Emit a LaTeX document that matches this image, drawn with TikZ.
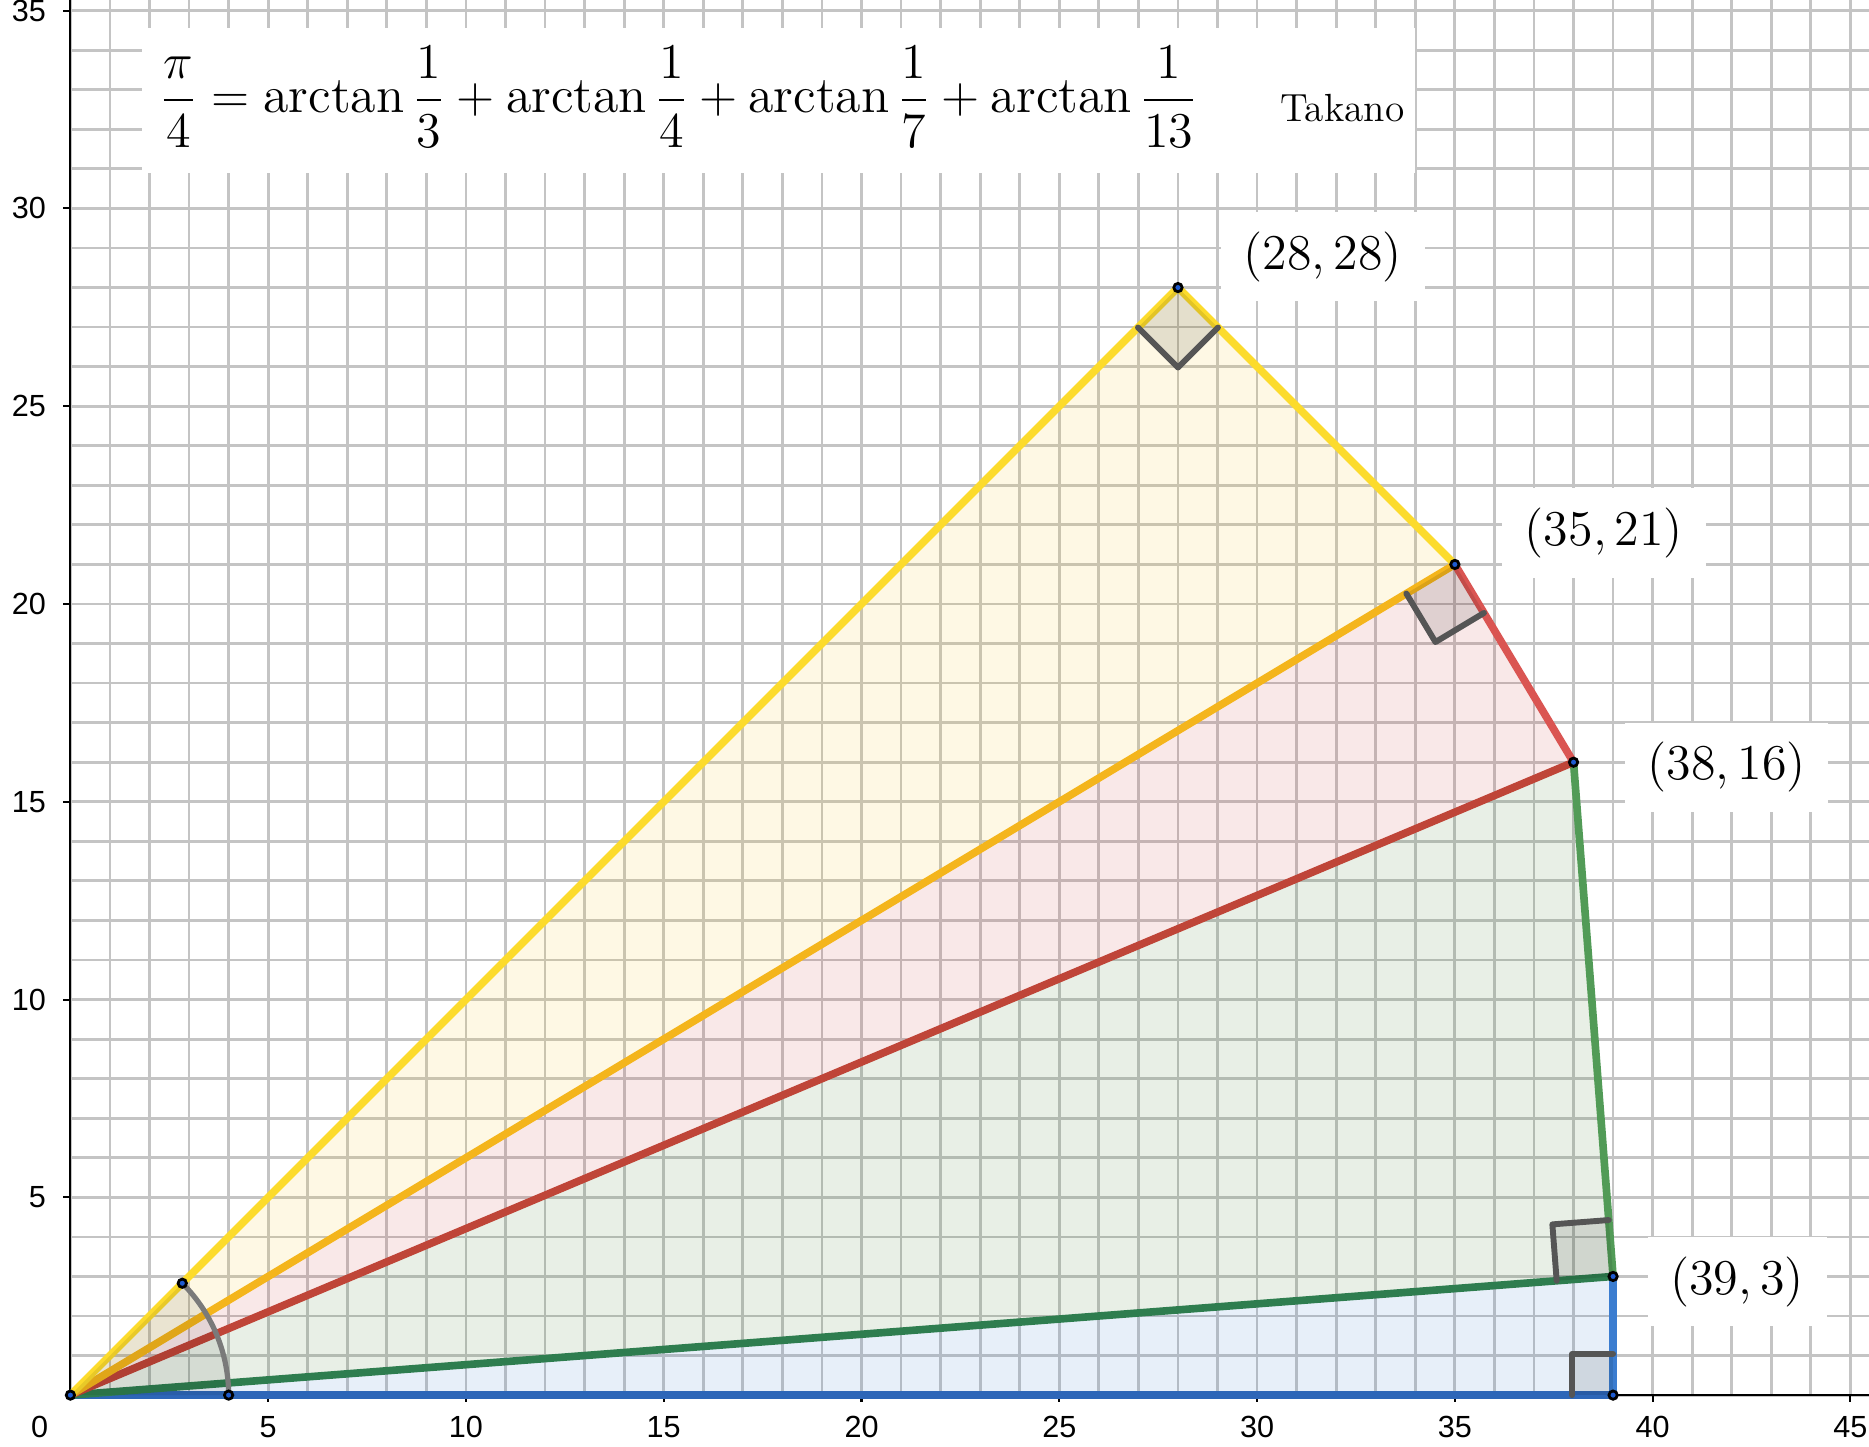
\documentclass[tikz,border=0pt]{standalone}
\usepackage{amsmath}
\usepackage{fontspec}
\newfontfamily\axisfont{Liberation Sans}
\usetikzlibrary{calc}
\definecolor{gridgray}{HTML}{C4C4C4}
\definecolor{bluebase}{HTML}{3B7DD0}
\definecolor{bluedark}{HTML}{2D66B8}
\definecolor{greenbase}{HTML}{3F7A30}
\definecolor{greendark}{HTML}{2E7D4F}
\definecolor{greenline}{HTML}{529B57}
\definecolor{redbase}{HTML}{CD3F3F}
\definecolor{reddark}{HTML}{BF4538}
\definecolor{redline}{HTML}{DA5552}
\definecolor{yellowbase}{HTML}{F7C51E}
\definecolor{orangeline}{HTML}{F4B51C}
\definecolor{yellowline}{HTML}{FCDB2C}
\definecolor{markgray}{HTML}{555555}
\definecolor{arcgray}{HTML}{7A7A7A}
\definecolor{dotblue}{HTML}{1E5BD0}

\tikzset{
  gridline/.style={gridgray, line width=0.8pt},
  axisline/.style={black, line width=0.6pt},
  edge/.style={line width=2.2pt, line cap=round, line join=round},
  trifill/.style={fill=#1, fill opacity=0.12},
  markfill/.style={fill=black, fill opacity=0.1},
  marker/.style={draw=markgray, line width=1.7pt, line join=round, line cap=round},
  ptlabel/.style={fill=white, inner xsep=0.23cm, inner ysep=0.2cm, font=\fontsize{14}{17}\selectfont},
  ptdot/.style={draw=black, fill=dotblue, line width=0.8pt},
  ticklabel/.style={font=\axisfont\fontsize{8.8}{10}\selectfont, inner sep=0pt},
}

\newcommand{\rtmark}[4]{%
  \coordinate (m1) at ($(#2)!#1!(#3)$);
  \coordinate (m2) at ($(#2)!#1!(#4)$);
  \coordinate (m3) at ($(m1)+(m2)-(#2)$);
  \fill[markfill] (#2) -- (m1) -- (m3) -- (m2) -- cycle;
  \draw[marker] (m1) -- (m3) -- (m2);
}

\begin{document}
\begin{tikzpicture}[x=0.4cm, y=0.4cm]
  \useasboundingbox (-1.78,-1.29) rectangle (45.47,35.27);
  \def\r{4}
  \coordinate (o) at (0, 0);
  \coordinate (p1) at (39, 0);
  \coordinate (p2) at (39, 3);
  \coordinate (p3) at (38, 16);
  \coordinate (p4) at (35, 21);
  \coordinate (p5) at (28, 28);
  \coordinate (a1) at (\r, 0);
  \coordinate (a2) at (45:\r);

  \draw[gridline, step=0.4cm] (0,0) grid (45.47,35.27);
  \draw[axisline] (0,35.27) -- (o) -- (45.47,0);
  \foreach \x in {5,10,...,45} {
    \draw[axisline] (\x,0) -- (\x,-0.18);
    \node[ticklabel] (xl\x) at (\x,-0.8) {\x};
  }
  \foreach \y in {5,10,...,35} {
    \draw[axisline] (0,\y) -- (-0.18,\y);
    \node[ticklabel, anchor=east] (yl\y) at (-0.6,\y) {\y};
  }
  \node[ticklabel] (xl0) at (-0.78,-0.8) {0};

  \fill[trifill=bluebase] (o) -- (p1) -- (p2) -- cycle;
  \fill[trifill=greenbase] (o) -- (p2) -- (p3) -- cycle;
  \fill[trifill=redbase] (o) -- (p3) -- (p4) -- cycle;
  \fill[trifill=yellowbase] (o) -- (p4) -- (p5) -- cycle;

  \draw[edge, bluedark] (o) -- (p1);
  \draw[edge, bluebase] (p1) -- (p2);
  \draw[edge, greendark] (o) -- (p2);
  \draw[edge, greenline] (p2) -- (p3);
  \draw[edge, reddark] (o) -- (p3);
  \draw[edge, redline] (p3) -- (p4);
  \draw[edge, orangeline] (o) -- (p4);
  \draw[edge, yellowline] (p4) -- (p5) -- (o);

  \rtmark{0.416cm}{p1}{o}{p2}
  \rtmark{0.572cm}{p2}{o}{p3}
  \rtmark{0.572cm}{p4}{o}{p3}
  \rtmark{0.572cm}{p5}{o}{p4}

  \fill[fill=black, fill opacity=0.08] (o) -- (a1) arc[start angle=0, end angle=45, radius=\r] -- cycle;
  \draw[arcgray, line width=1.5pt] (a1) arc[start angle=0, end angle=45, radius=\r];

  \foreach \p in {o,p1,p2,p3,p4,p5,a1,a2}
    \filldraw[ptdot] (\p) circle (1.2pt);

  \node[ptlabel] (lab5) at (31.66,28.78) {$(28,28)$};
  \node[ptlabel] (lab4) at (38.77,21.8) {$(35,21)$};
  \node[ptlabel] (lab3) at (41.87,15.87) {$(38,16)$};
  \node[ptlabel] (lab2) at (42.14,2.87) {$(39,3)$};

  \fill[white] (1.81,30.9) rectangle (34.0,34.56);
  \node[anchor=base west, inner sep=0pt, font=\fontsize{14.9}{17.5}\selectfont] (formula) at (2.24,32.42)
    {$\dfrac{\pi}{4}=\arctan\dfrac{1}{3}+\arctan\dfrac{1}{4}+\arctan\dfrac{1}{7}+\arctan\dfrac{1}{13}$};
  \node[anchor=base east, inner sep=0pt, font=\fontsize{11.3}{13.5}\selectfont] (takano) at (33.74,32.2) {Takano};
\end{tikzpicture}
\end{document}
